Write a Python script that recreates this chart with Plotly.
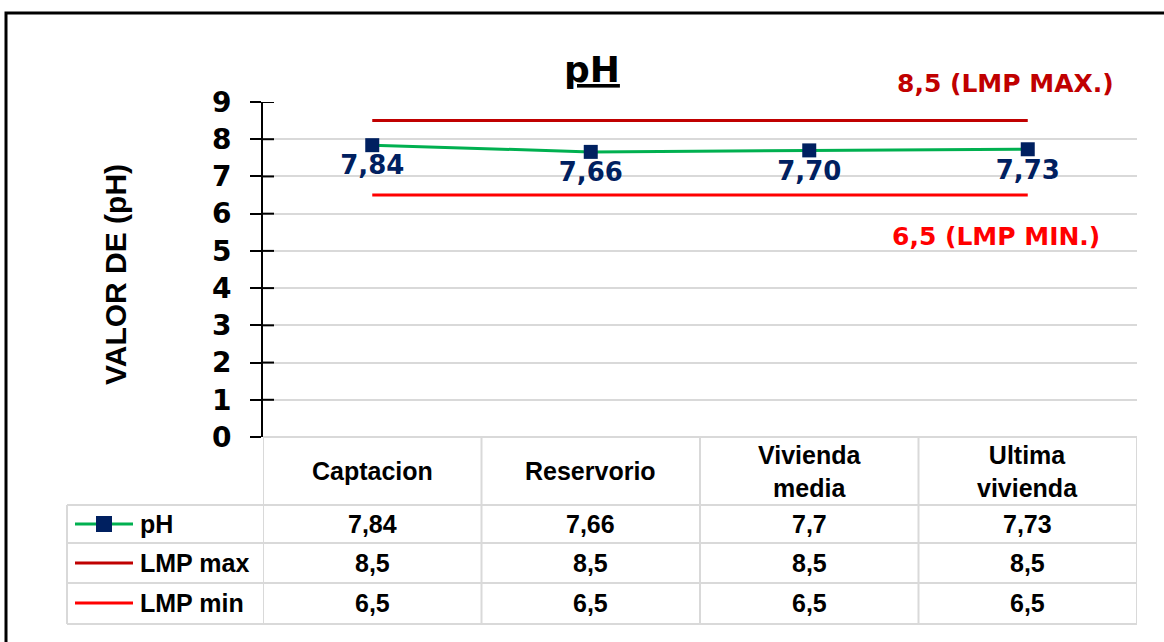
import plotly.graph_objects as go

# ---------------- data ----------------
categories = ["Captacion", "Reservorio", "Vivienda media", "Ultima vivienda"]
ph_values = [7.84, 7.66, 7.70, 7.73]
lmp_max = [8.5, 8.5, 8.5, 8.5]
lmp_min = [6.5, 6.5, 6.5, 6.5]
series_names = ["pH", "LMP max", "LMP min"]
y_ticks = [0, 1, 2, 3, 4, 5, 6, 7, 8, 9]
chart_title = "pH"
y_title = "VALOR DE (pH)"

# ---------------- style / layout helpers ----------------
W, H = 1164, 642
L, R, T, B = 263, 1137, 102, 437   # plot area in pixels


def px(x):
    return (x - L) / (R - L)


def py(y):
    return (B - y) / (B - T)


def general(v):
    return f"{v:g}".replace(".", ",")


def two_dec(v):
    return f"{v:.2f}".replace(".", ",")


GREEN = "#00B050"
NAVY = "#002060"
DARKRED = "#C00000"
RED = "#FF0000"
GRID = "#D9D9D9"
TABLE_FONT = dict(family="Liberation Sans, Arial", size=25, color="black", weight="bold")
BIG_FONT = "DejaVu Sans"

fig = go.Figure()

fig.add_trace(go.Scatter(x=categories, y=lmp_max, mode="lines", name=series_names[1],
                         line=dict(color=DARKRED, width=3), hoverinfo="skip"))
fig.add_trace(go.Scatter(x=categories, y=lmp_min, mode="lines", name=series_names[2],
                         line=dict(color=RED, width=3), hoverinfo="skip"))
fig.add_trace(go.Scatter(x=categories, y=ph_values, mode="lines+markers+text", name=series_names[0],
                         line=dict(color=GREEN, width=3),
                         marker=dict(symbol="square", size=14, color=NAVY),
                         text=[two_dec(v) for v in ph_values], textposition="bottom center",
                         textfont=dict(family=BIG_FONT, size=26, color=NAVY, weight="bold"),
                         hoverinfo="skip"))

shapes = []
annotations = []

# outer black frame
shapes.append(dict(type="rect", xref="paper", yref="paper",
                   x0=px(6), x1=px(1180), y0=py(660), y1=py(13),
                   line=dict(color="black", width=3), layer="below"))

# inner ticks (cross style axis ticks, right part)
for v in y_ticks[1:]:
    shapes.append(dict(type="line", xref="paper", yref="y", x0=0, x1=px(L + 11), y0=v, y1=v,
                       line=dict(color="black", width=2)))

# data table grid
row_lines = [505, 543, 583, 624]
shapes.append(dict(type="line", xref="paper", yref="paper", x0=0, x1=1, y0=py(437), y1=py(437),
                   line=dict(color=GRID, width=2)))
for yl in row_lines:
    shapes.append(dict(type="line", xref="paper", yref="paper", x0=px(67), x1=1, y0=py(yl), y1=py(yl),
                       line=dict(color=GRID, width=2)))
shapes.append(dict(type="line", xref="paper", yref="paper", x0=px(67), x1=px(67),
                   y0=py(505), y1=py(624), line=dict(color=GRID, width=2)))
for i in range(len(categories) + 1):
    shapes.append(dict(type="line", xref="x", yref="paper", x0=i - 0.5, x1=i - 0.5,
                       y0=py(437), y1=py(624), line=dict(color=GRID, width=2)))

# header labels
for c in categories:
    annotations.append(dict(x=c, xref="x", y=py(471), yref="paper", text=c.replace(" ", "<br>"),
                            showarrow=False, font=TABLE_FONT, xanchor="center", yanchor="middle"))

# table rows
row_centers = [524, 563, 603]
row_data = [ph_values, lmp_max, lmp_min]
row_colors = [GREEN, DARKRED, RED]
for name, vals, yc, col in zip(series_names, row_data, row_centers, row_colors):
    for c, v in zip(categories, vals):
        annotations.append(dict(x=c, xref="x", y=py(yc), yref="paper", text=general(v),
                                showarrow=False, font=TABLE_FONT, xanchor="center", yanchor="middle"))
    annotations.append(dict(x=px(138), xref="paper", y=py(yc), yref="paper", text=name,
                            showarrow=False, font=TABLE_FONT, xanchor="left", yanchor="middle"))
    shapes.append(dict(type="line", xref="paper", yref="paper", x0=px(75), x1=px(133),
                       y0=py(yc), y1=py(yc), line=dict(color=col, width=3)))
# legend marker for pH
shapes.append(dict(type="rect", xref="paper", yref="paper", x0=px(96), x1=px(112),
                   y0=py(524 + 8), y1=py(524 - 8), fillcolor=NAVY, line=dict(width=0)))

# title
annotations.append(dict(x=px(592), xref="paper", y=py(70), yref="paper", text=f"<u>{chart_title}</u>",
                        showarrow=False, xanchor="center", yanchor="middle",
                        font=dict(family=BIG_FONT, size=36, color="black", weight="bold")))
# y axis title
annotations.append(dict(x=px(115), xref="paper", y=py(275), yref="paper", text=y_title, textangle=-90,
                        showarrow=False, xanchor="center", yanchor="middle",
                        font=dict(family="Liberation Sans, Arial", size=30, color="black", weight="bold")))
# limit labels
annotations.append(dict(x=px(1005), xref="paper", y=py(84), yref="paper",
                        text=f"{general(lmp_max[-1])} (LMP MAX.)", showarrow=False,
                        xanchor="center", yanchor="middle",
                        font=dict(family=BIG_FONT, size=25, color=DARKRED, weight="bold")))
annotations.append(dict(x=px(996), xref="paper", y=py(236), yref="paper",
                        text=f"{general(lmp_min[-1])} (LMP MIN.)", showarrow=False,
                        xanchor="center", yanchor="middle",
                        font=dict(family=BIG_FONT, size=25, color=RED, weight="bold")))

fig.update_layout(
    width=W, height=H,
    margin=dict(l=L, r=W - R, t=T, b=H - B, pad=0),
    paper_bgcolor="white", plot_bgcolor="white",
    showlegend=False,
    shapes=shapes, annotations=annotations,
    xaxis=dict(type="category", range=[-0.5, len(categories) - 0.5], showticklabels=False,
               showgrid=False, zeroline=False, showline=False, ticks=""),
    yaxis=dict(range=[0, 9], tickvals=y_ticks, showgrid=True, gridcolor=GRID, gridwidth=2,
               zeroline=False, showline=True, linecolor="black", linewidth=2,
               ticks="outside", ticklen=11, tickwidth=2, tickcolor="black",
               tickfont=dict(family=BIG_FONT, size=28, color="black", weight="bold"),
               ticklabelstandoff=13),
)

fig.write_html("out.html",
               config={"displayModeBar": False},
               post_script="document.body.style.margin='0';document.body.style.overflow='hidden';")
